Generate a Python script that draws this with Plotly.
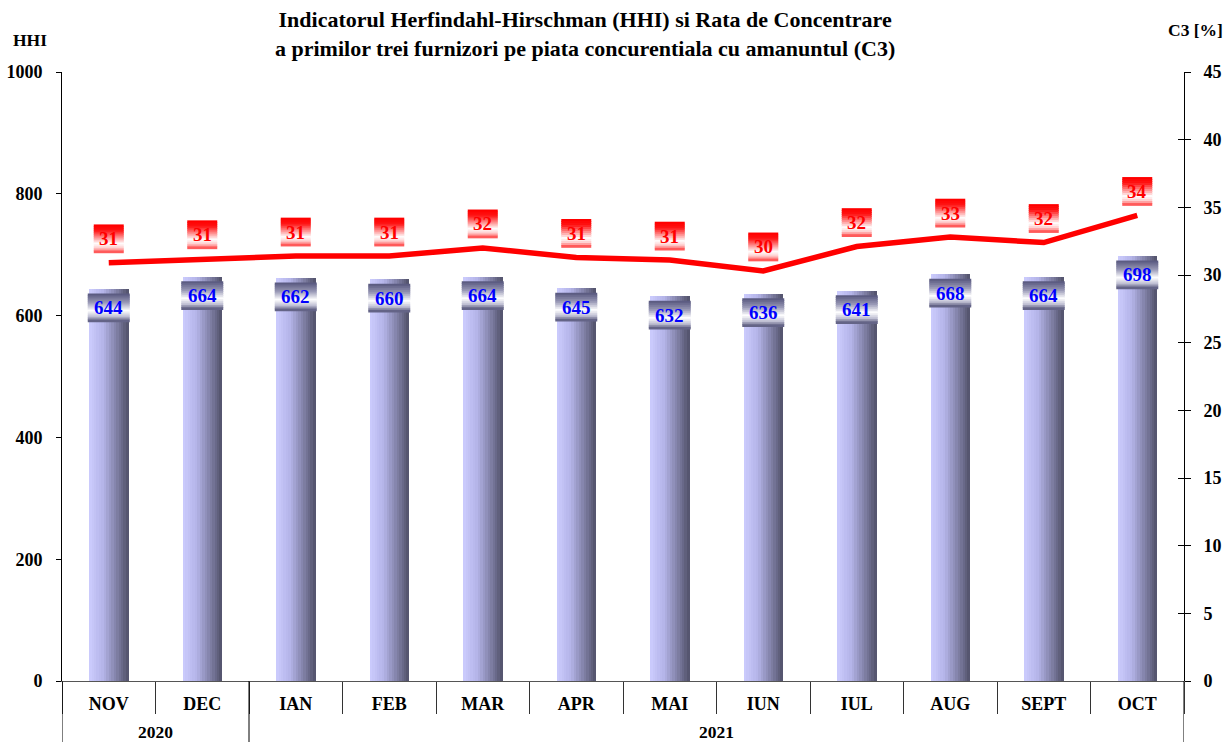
import plotly.graph_objects as go

months = ["NOV", "DEC", "IAN", "FEB", "MAR", "APR", "MAI", "IUN", "IUL", "AUG", "SEPT", "OCT"]
years = ["2020", "2020", "2021", "2021", "2021", "2021", "2021", "2021", "2021", "2021", "2021", "2021"]
hhi = [644, 664, 662, 660, 664, 645, 632, 636, 641, 668, 664, 698]
c3 = [30.9, 31.2, 31.4, 31.4, 32.0, 31.3, 31.1, 30.3, 32.1, 32.8, 32.4, 34.4]

FONT = "Liberation Serif"
x = list(range(len(months)))


def lerp_stops(stops, t):
    for (p0, c0), (p1, c1) in zip(stops[:-1], stops[1:]):
        if p0 <= t <= p1:
            u = (t - p0) / (p1 - p0) if p1 > p0 else 0
            return tuple(round(c0[j] + (c1[j] - c0[j]) * u) for j in range(3))
    return stops[-1][1]


fig = go.Figure()

# gradient bars built from thin overlaid slices
N = 16
bw = 0.42
bar_stops = [(0, (202, 202, 252)), (0.35, (180, 180, 232)), (1, (86, 86, 112))]
for k in range(N):
    col = lerp_stops(bar_stops, k / (N - 1))
    fig.add_trace(go.Bar(
        x=x, y=hhi, width=bw / N + 0.003, offset=-bw / 2 + k * bw / N,
        marker=dict(color="rgb(%d,%d,%d)" % col, line=dict(width=0)),
        showlegend=False, hoverinfo="skip", yaxis="y"))

fig.add_trace(go.Scatter(
    x=x, y=c3, mode="lines", yaxis="y2",
    line=dict(color="#ff0000", width=5.5), showlegend=False))

shapes = []
annotations = []

blue_stops = [(0, (92, 92, 130)), (0.3, (150, 150, 180)), (0.62, (255, 255, 255)),
              (0.85, (190, 190, 210)), (1, (100, 100, 135))]
red_stops = [(0, (255, 0, 0)), (0.2, (255, 20, 20)), (0.7, (255, 255, 255)),
             (0.88, (255, 200, 200)), (1, (255, 90, 90))]


def grad_box(xa, ya, yref, half_w, top, height, stops):
    n = height // 2
    for s in range(n):
        col = lerp_stops(stops, s / (n - 1))
        shapes.append(dict(type="rect", xref="x", yref=yref, xsizemode="pixel", ysizemode="pixel",
                           xanchor=xa, yanchor=ya, x0=-half_w, x1=half_w,
                           y0=top - s * 2 + 0.4, y1=top - (s + 1) * 2 - 0.4,
                           fillcolor="rgb(%d,%d,%d)" % col, line=dict(width=0), layer="above"))


for i, v in enumerate(hhi):
    grad_box(i, v, "y", 21, -5, 28, blue_stops)
    annotations.append(dict(x=i, y=v, xref="x", yref="y", text="<b>%d</b>" % v, showarrow=False,
                            xanchor="center", yanchor="middle",
                            yshift=-19, font=dict(family=FONT, size=19, color="#0000ff")))

for i, v in enumerate(c3):
    grad_box(i, v, "y2", 15, 38, 28, red_stops)
    annotations.append(dict(x=i, y=v, xref="x", yref="y2", text="<b>%.0f</b>" % v, showarrow=False,
                            xanchor="center", yanchor="middle",
                            yshift=24, font=dict(family=FONT, size=19, color="#ff0000")))

# year grouping row
groups = []
for i, yv in enumerate(years):
    if not groups or groups[-1][0] != yv:
        groups.append([yv, i, i])
    else:
        groups[-1][2] = i
bounds = sorted(set([g[1] - 0.5 for g in groups] + [groups[-1][2] + 0.5]))
for b in bounds:
    shapes.append(dict(type="line", xref="x", yref="paper", x0=b, x1=b, y0=0, y1=-0.12,
                       line=dict(color="black", width=1)))
for yv, a, b in groups:
    annotations.append(dict(x=(a + b) / 2, y=0, xref="x", yref="paper", text="<b>%s</b>" % yv,
                            showarrow=False, xanchor="center", yanchor="middle", yshift=-51,
                            font=dict(family=FONT, size=17.5, color="black")))

annotations.append(dict(x=0, y=1, xref="paper", yref="paper", text="<b>HHI</b>", showarrow=False,
                        xanchor="center", yanchor="middle",
                        xshift=-32, yshift=32, font=dict(family=FONT, size=17.5, color="black")))
annotations.append(dict(x=1, y=1, xref="paper", yref="paper", text="<b>C3 [%]</b>", showarrow=False,
                        xanchor="center", yanchor="middle",
                        xshift=11, yshift=42, font=dict(family=FONT, size=17.5, color="black")))
annotations.append(dict(x=0.466, y=1, xref="paper", yref="paper", xanchor="center", yanchor="middle",
                        text="<b>Indicatorul Herfindahl-Hirschman (HHI) si Rata de Concentrare<br>"
                             "a primilor trei furnizori pe piata concurentiala cu amanuntul (C3)</b>",
                        showarrow=False, yshift=38, font=dict(family=FONT, size=22, color="black")))

fig.update_layout(
    width=1227, height=742,
    margin=dict(l=62, r=43, t=72, b=61, autoexpand=False),
    paper_bgcolor="white", plot_bgcolor="white",
    barmode="overlay", bargap=0,
    showlegend=False,
    font=dict(family=FONT, color="black"),
    xaxis=dict(range=[-0.5, len(months) - 0.5], tickmode="array", tickvals=x,
               ticktext=["<b>%s</b>" % m for m in months], ticks="", showgrid=False,
               zeroline=False, showline=True, linecolor="#555555", linewidth=1,
               tickfont=dict(family=FONT, size=18, color="black"), ticklabelstandoff=6,
               automargin=False,
               minor=dict(tickmode="array", tickvals=[i - 0.5 for i in range(len(months) + 1)],
                          ticks="outside", ticklen=32, tickcolor="#333333", tickwidth=1)),
    yaxis=dict(range=[0, 1000], tickvals=[0, 200, 400, 600, 800, 1000],
               ticktext=["<b>%d</b>" % t for t in [0, 200, 400, 600, 800, 1000]],
               ticks="outside", ticklen=5, tickcolor="black", showgrid=False, zeroline=False,
               showline=True, linecolor="black", linewidth=1, ticklabelstandoff=10,
               automargin=False, tickfont=dict(family=FONT, size=18, color="black")),
    yaxis2=dict(range=[0, 45], tickvals=list(range(0, 50, 5)),
                ticktext=["<b>%d</b>" % t for t in range(0, 50, 5)],
                overlaying="y", side="right", ticks="outside", ticklen=6, tickcolor="black",
                showgrid=False, zeroline=False, showline=True, linecolor="black", linewidth=1,
                ticklabelstandoff=9, automargin=False,
                tickfont=dict(family=FONT, size=18, color="black")),
    yaxis3=dict(range=[0, 45], tickvals=list(range(0, 50, 5)), overlaying="y", side="right",
                ticks="inside", ticklen=6, tickcolor="black", showticklabels=False,
                showgrid=False, zeroline=False, showline=False, automargin=False),
    shapes=shapes,
    annotations=annotations,
)
# invisible trace to activate yaxis3
fig.add_trace(go.Scatter(x=[0], y=[0], yaxis="y3", mode="markers", marker=dict(opacity=0),
                         showlegend=False, hoverinfo="skip"))

fig.write_html("out.html", config={"displayModeBar": False},
               post_script="document.body.style.margin='0';document.body.style.overflow='hidden';")
